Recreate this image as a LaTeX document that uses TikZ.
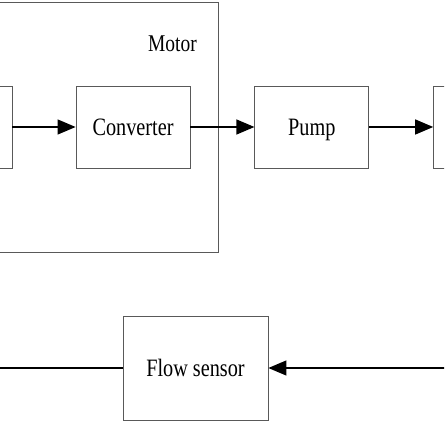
\documentclass[tikz,border=0pt]{standalone}
\usepackage{fontspec}
\setmainfont{Liberation Serif}[FakeStretch=0.81]
\usetikzlibrary{positioning,
				arrows.meta}

\begin{document}
\begin{tikzpicture}[x=1pt,y=1pt,
	block/.style={draw=black!65, line width=0.8pt, minimum width=114pt, minimum height=82pt, text depth=0pt, font=\fontsize{25}{30}\selectfont},
	flow/.style={line width=1.2pt, -{Triangle[length=18pt,width=15pt]}}]
		\useasboundingbox (0,0) rectangle (444,444);
		\clip (0,0) rectangle (444,444);

		% motor frame
		\draw[draw=black!65, line width=0.8pt] (-120,192) rectangle (218,442);
		\node[font=\fontsize{24}{30}\selectfont] (motor) at (172.5,400.5) {Motor};

		\node[block] (ctrl) at (-45,317) {};
		\node[block] (conv) at (133,317) {Converter};
		\node[block, right=64pt of conv] (pump) {Pump};
		\node[block, right=64pt of pump] (tank) {};
		\node[block, minimum width=145pt, minimum height=104pt] (sensor) at (195.5,76) {Flow sensor};

		\coordinate (inL) at (-10,76);
		\coordinate (inR) at (460,76);

		\draw[flow] (ctrl) -- (conv);
		\draw[flow] (conv) -- (pump);
		\draw[flow] (pump) -- (tank);
		\draw[flow] (inR) -- (sensor);
		\draw[line width=1.2pt] (sensor) -- (inL);
\end{tikzpicture}
\end{document}
